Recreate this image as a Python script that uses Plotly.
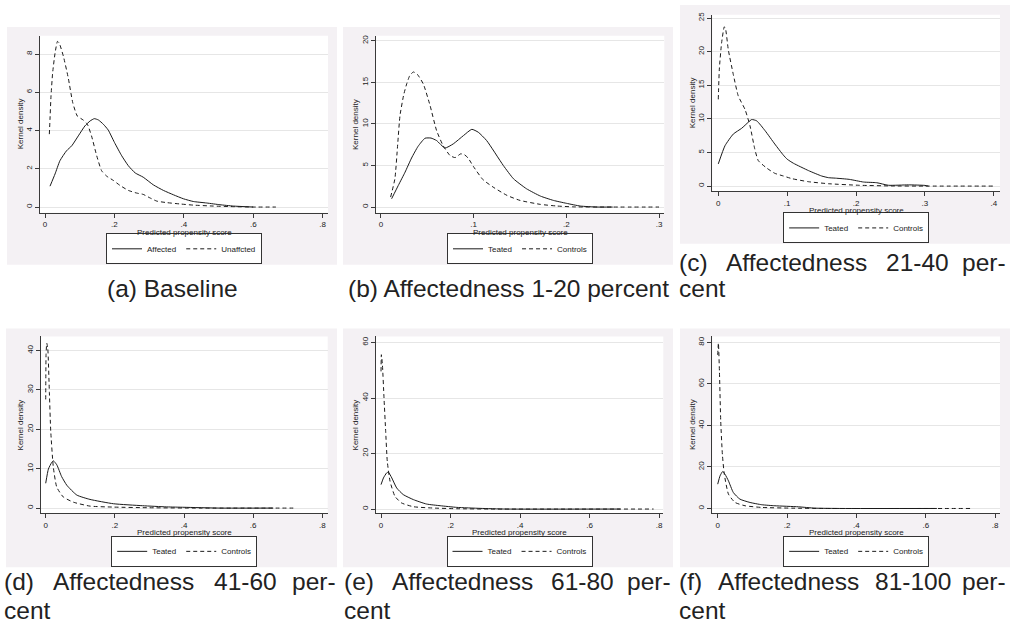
import plotly.graph_objects as go

W, H = 1011, 625

# ---------------- data ----------------
# (a) Baseline
a_aff_x = [0.0144, 0.029, 0.043, 0.062, 0.077, 0.096, 0.115, 0.13, 0.142, 0.154, 0.168, 0.182, 0.2, 0.221,
           0.24, 0.26, 0.283, 0.312, 0.341, 0.37, 0.399, 0.427, 0.466, 0.504, 0.543, 0.6]
a_aff_y = [1.09, 1.73, 2.42, 2.94, 3.2, 3.72, 4.24, 4.5, 4.62, 4.55, 4.33, 4.03, 3.38, 2.68,
           2.16, 1.78, 1.56, 1.16, 0.87, 0.64, 0.43, 0.29, 0.21, 0.12, 0.05, 0.0]
a_una_x = [0.0125, 0.0144, 0.0173, 0.022, 0.029, 0.036, 0.041, 0.053, 0.067, 0.080, 0.093, 0.110, 0.122,
           0.134, 0.149, 0.163, 0.178, 0.197, 0.216, 0.24, 0.264, 0.283, 0.302, 0.322, 0.351, 0.389,
           0.427, 0.485, 0.543, 0.6, 0.665]
a_una_y = [3.81, 4.59, 5.8, 7.01, 8.05, 8.66, 8.57, 7.88, 6.75, 5.45, 4.76, 4.55, 4.33,
           3.72, 2.68, 1.9, 1.61, 1.39, 1.13, 0.87, 0.73, 0.66, 0.48, 0.31, 0.23, 0.16,
           0.10, 0.05, 0.02, 0.0, 0.0]

# (b) Affectedness 1-20 percent
b_tr_x = [0.0115, 0.0187, 0.026, 0.033, 0.040, 0.0475, 0.054, 0.06, 0.069, 0.078, 0.089, 0.098, 0.105,
          0.114, 0.132, 0.143, 0.157, 0.172, 0.186, 0.2, 0.215, 0.233, 0.25]
b_tr_y = [1.0, 2.6, 4.2, 5.9, 7.3, 8.28, 8.3, 8.0, 7.1, 7.6, 8.6, 9.35, 9.0,
          8.0, 5.0, 3.4, 2.2, 1.32, 0.8, 0.45, 0.12, 0.0, 0.0]
b_co_x = [0.0104, 0.015, 0.018, 0.0205, 0.0245, 0.0277, 0.031, 0.0349, 0.039, 0.0457, 0.053, 0.060, 0.067,
          0.0745, 0.080, 0.086, 0.090, 0.094, 0.0996, 0.110, 0.121, 0.136, 0.15, 0.172, 0.19, 0.208,
          0.25, 0.3]
b_co_y = [1.2, 3.4, 7.5, 11.0, 13.5, 14.8, 15.8, 16.25, 16.0, 14.8, 12.2, 9.2, 7.4,
          6.2, 5.95, 6.4, 6.3, 5.9, 4.9, 3.3, 2.4, 1.4, 0.8, 0.32, 0.12, 0.02,
          0.0, 0.0]

# (c) Affectedness 21-40 percent
c_tr_x = [0.0, 0.0097, 0.0218, 0.034, 0.0436, 0.0485, 0.0558, 0.068, 0.082, 0.0945, 0.100, 0.109, 0.131,
          0.15, 0.16, 0.17, 0.19, 0.211, 0.23, 0.247, 0.276, 0.3, 0.305]
c_tr_y = [3.3, 6.0, 7.74, 8.6, 9.5, 9.9, 9.7, 8.23, 6.26, 4.6, 4.0, 3.4, 2.3,
          1.5, 1.25, 1.18, 1.0, 0.6, 0.5, 0.12, 0.18, 0.1, 0.0]
c_co_x = [0.0, 0.0015, 0.0048, 0.0087, 0.0107, 0.0145, 0.0218, 0.029, 0.0388, 0.046, 0.053, 0.058, 0.070,
          0.082, 0.0945, 0.107, 0.131, 0.16, 0.204, 0.252, 0.3, 0.4]
c_co_y = [12.9, 17.4, 21.3, 23.7, 23.3, 20.3, 16.6, 13.4, 11.4, 8.97, 5.5, 3.8, 2.7,
          1.9, 1.5, 1.1, 0.65, 0.35, 0.12, 0.02, 0.0, 0.0]

# (d) Affectedness 41-60 percent
d_tr_x = [0.0, 0.0077, 0.0174, 0.022, 0.032, 0.046, 0.061, 0.09, 0.128, 0.196, 0.28, 0.35, 0.4, 0.504, 0.658]
d_tr_y = [6.3, 9.9, 11.6, 12.0, 11.0, 8.0, 5.8, 3.3, 2.2, 1.1, 0.6, 0.3, 0.2, 0.0, 0.0]
d_co_x = [0.0, 0.001, 0.003, 0.006, 0.0106, 0.0145, 0.022, 0.032, 0.051, 0.08, 0.128, 0.196, 0.3, 0.446, 0.716]
d_co_y = [27.6, 39.0, 41.9, 40.5, 29.3, 19.6, 10.4, 5.3, 2.8, 1.5, 0.5, 0.25, 0.08, 0.0, 0.0]

# (e) Affectedness 61-80 percent
e_tr_x = [0.0, 0.007, 0.016, 0.021, 0.031, 0.045, 0.064, 0.093, 0.131, 0.17, 0.218, 0.285, 0.36, 0.688]
e_tr_y = [8.8, 11.2, 13.0, 13.3, 11.2, 7.6, 5.2, 3.4, 1.8, 1.2, 0.6, 0.24, 0.0, 0.0]
e_co_x = [0.0, 0.001, 0.004, 0.0086, 0.0134, 0.018, 0.026, 0.04, 0.059, 0.093, 0.15, 0.218, 0.314, 0.784]
e_co_y = [49.6, 55.6, 52.0, 40.0, 28.0, 17.2, 10.0, 4.6, 2.2, 0.84, 0.36, 0.12, 0.0, 0.0]

# (f) Affectedness 81-100 percent
f_tr_x = [0.0, 0.0067, 0.0144, 0.021, 0.031, 0.045, 0.064, 0.093, 0.127, 0.165, 0.233, 0.28, 0.358, 0.632]
f_tr_y = [11.7, 15.7, 17.8, 16.5, 13.3, 7.7, 4.5, 2.9, 1.8, 1.3, 0.8, 0.16, 0.0, 0.0]
f_co_x = [0.0, 0.002, 0.005, 0.0087, 0.0135, 0.019, 0.031, 0.05, 0.079, 0.127, 0.213, 0.31, 0.733]
f_co_y = [74.0, 79.7, 66.0, 42.0, 26.0, 16.5, 6.9, 2.9, 1.3, 0.5, 0.16, 0.0, 0.0]

# tick labels
x_ticks_08 = [0, 0.2, 0.4, 0.6, 0.8]
x_text_08 = ["0", ".2", ".4", ".6", ".8"]
x_ticks_03 = [0, 0.1, 0.2, 0.3]
x_text_03 = ["0", ".1", ".2", ".3"]
x_ticks_04 = [0, 0.1, 0.2, 0.3, 0.4]
x_text_04 = ["0", ".1", ".2", ".3", ".4"]
y_ticks_a = [0, 2, 4, 6, 8]
y_ticks_b = [0, 5, 10, 15, 20]
y_ticks_c = [0, 5, 10, 15, 20, 25]
y_ticks_d = [0, 10, 20, 30, 40]
y_ticks_e = [0, 20, 40, 60]
y_ticks_f = [0, 20, 40, 60, 80]

x_title = "Predicted propensity score"
y_title = "Kernel density"

# ---------------- styling / layout ----------------
FONT = "Liberation Sans, Arial, Helvetica, sans-serif"
LC = "#1a1a1a"
AX = "#3a3a3a"
GRID = "#e6e6e6"
PANEL = "#f4f1f4"
DASH = "4px,3px"

def X(px):
    return px / W

def Y(py):
    return 1 - py / H

panels = [
    dict(grey=(7, 24, 337, 263), plot=(40, 33, 328, 210.7), xr=[-0.0144, 0.8153], yr=[-0.296, 8.95],
         xt=x_ticks_08, xtt=x_text_08, yt=y_ticks_a,
         s=(a_aff_x, a_aff_y, "Affected"), d=(a_una_x, a_una_y, "Unaffcted")),
    dict(grey=(343, 24, 673, 263), plot=(375.7, 33, 664.3, 210.7), xr=[-0.0057, 0.3057], yr=[-0.68, 20.6],
         xt=x_ticks_03, xtt=x_text_03, yt=y_ticks_b,
         s=(b_tr_x, b_tr_y, "Teated"), d=(b_co_x, b_co_y, "Controls")),
    dict(grey=(680, 2, 1010, 242), plot=(712.3, 11.7, 1000, 189.3), xr=[-0.0087, 0.409], yr=[-0.79, 25.5],
         xt=x_ticks_04, xtt=x_text_04, yt=y_ticks_c,
         s=(c_tr_x, c_tr_y, "Teated"), d=(c_co_x, c_co_y, "Controls")),
    dict(grey=(6, 327, 337, 567), plot=(40.7, 335, 327.7, 512.5), xr=[-0.0145, 0.8155], yr=[-1.26, 43.6],
         xt=x_ticks_08, xtt=x_text_08, yt=y_ticks_d,
         s=(d_tr_x, d_tr_y, "Teated"), d=(d_co_x, d_co_y, "Controls")),
    dict(grey=(343, 327, 673, 567), plot=(375.7, 335, 663.3, 512.5), xr=[-0.0153, 0.812], yr=[-1.44, 62.2],
         xt=x_ticks_08, xtt=x_text_08, yt=y_ticks_e,
         s=(e_tr_x, e_tr_y, "Teated"), d=(e_co_x, e_co_y, "Controls")),
    dict(grey=(680, 327, 1010, 567), plot=(712.3, 335, 1000, 512.5), xr=[-0.0156, 0.814], yr=[-2.2, 82.9],
         xt=x_ticks_08, xtt=x_text_08, yt=y_ticks_f,
         s=(f_tr_x, f_tr_y, "Teated"), d=(f_co_x, f_co_y, "Controls")),
]

fig = go.Figure()
layout = dict(width=W, height=H, autosize=False, margin=dict(l=0, r=0, t=0, b=0),
              paper_bgcolor="white", plot_bgcolor="rgba(0,0,0,0)",
              font=dict(family=FONT, size=8, color="#222"), shapes=[], annotations=[])

for i, p in enumerate(panels):
    n = "" if i == 0 else str(i + 1)
    xa, ya, leg = "x" + n, "y" + n, "legend" + n
    gx0, gy0, gx1, gy1 = p["grey"]
    px0, py0, px1, py1 = p["plot"]
    sx, sy, sname = p["s"]
    dx, dy, dname = p["d"]
    fig.add_trace(go.Scatter(x=sx, y=sy, mode="lines", name=sname, xaxis=xa, yaxis=ya, legend=leg,
                             line=dict(color=LC, width=1, shape="spline", smoothing=0.5)))
    fig.add_trace(go.Scatter(x=dx, y=dy, mode="lines", name=dname, xaxis=xa, yaxis=ya, legend=leg,
                             line=dict(color=LC, width=1, dash=DASH, shape="spline", smoothing=0.5)))
    layout["xaxis" + n] = dict(domain=[X(px0), X(px1)], range=p["xr"], anchor=ya, showgrid=False,
                               zeroline=False, showline=True, linecolor=AX, linewidth=1,
                               ticks="outside", ticklen=4, tickwidth=1, tickcolor=AX,
                               tickvals=p["xt"], ticktext=p["xtt"], tickfont=dict(size=8, color="#222"),
                               fixedrange=True)
    layout["yaxis" + n] = dict(domain=[Y(py1), Y(py0)], range=p["yr"], anchor=xa, showgrid=True,
                               gridcolor=GRID, gridwidth=1, zeroline=False, showline=True,
                               linecolor=AX, linewidth=1, ticks="outside", ticklen=4, tickwidth=1,
                               tickcolor=AX, tickvals=p["yt"], tickangle=-90,
                               tickfont=dict(size=8, color="#222"), fixedrange=True)
    layout[leg] = dict(x=X((px0 + px1) / 2), y=Y(gy1 - 16), xref="paper", yref="paper",
                       xanchor="center", yanchor="middle", orientation="h", bgcolor="white",
                       bordercolor="#333", borderwidth=1, font=dict(size=8, color="#222"),
                       itemwidth=30, tracegroupgap=0)
    layout["shapes"].append(dict(type="rect", xref="paper", yref="paper", x0=X(gx0), x1=X(gx1),
                                 y0=Y(gy1), y1=Y(gy0), fillcolor=PANEL, line=dict(width=0), layer="below"))
    layout["shapes"].append(dict(type="rect", xref="paper", yref="paper", x0=X(px0), x1=X(px1),
                                 y0=Y(py1), y1=Y(py0), fillcolor="white", line=dict(width=0), layer="below"))
    layout["annotations"].append(dict(text=x_title, xref="paper", yref="paper", x=X((px0 + px1) / 2),
                                      y=Y(py1 + 19.5), xanchor="center", yanchor="middle", showarrow=False,
                                      font=dict(size=8, color="#222")))
    layout["annotations"].append(dict(text=y_title, xref="paper", yref="paper", x=X(px0 - 20),
                                      y=Y((py0 + py1) / 2), xanchor="center", yanchor="middle",
                                      textangle=-90, showarrow=False, font=dict(size=8, color="#222")))

# ---------------- captions ----------------
CAP = dict(size=24.5, color="#222", family=FONT)
captions = [
    # (text, x_px, y_px, xanchor)
    ("(a) Baseline", 172, 287, "center"),
    ("(b) Affectedness 1-20 percent", 508, 287, "center"),
    ("(c)", 677, 261, "left"), ("Affectedness", 723.8, 261, "left"), ("21-40", 883.6, 261, "left"),
    ("per-", 1008, 261, "right"), ("cent", 677, 287, "left"),
    ("(d)", 2, 581, "left"), ("Affectedness", 51.3, 581, "left"), ("41-60", 212.3, 581, "left"),
    ("per-", 338, 581, "right"), ("cent", 2, 610, "left"),
    ("(e)", 342, 581, "left"), ("Affectedness", 389.7, 581, "left"), ("61-80", 549.1, 581, "left"),
    ("per-", 673, 581, "right"), ("cent", 342, 610, "left"),
    ("(f)", 677, 581, "left"), ("Affectedness", 715.6, 581, "left"), ("81-100", 872.7, 581, "left"),
    ("per-", 1008, 581, "right"), ("cent", 677, 610, "left"),
]
for t, x, y, anc in captions:
    layout["annotations"].append(dict(text=t, xref="paper", yref="paper", x=X(x), y=Y(y),
                                      xanchor=anc, yanchor="middle", showarrow=False, font=CAP))

fig.update_layout(**layout)
fig.write_html("out.html", config={"displayModeBar": False},
               post_script="document.body.style.margin='0px';document.body.style.overflow='hidden';")
